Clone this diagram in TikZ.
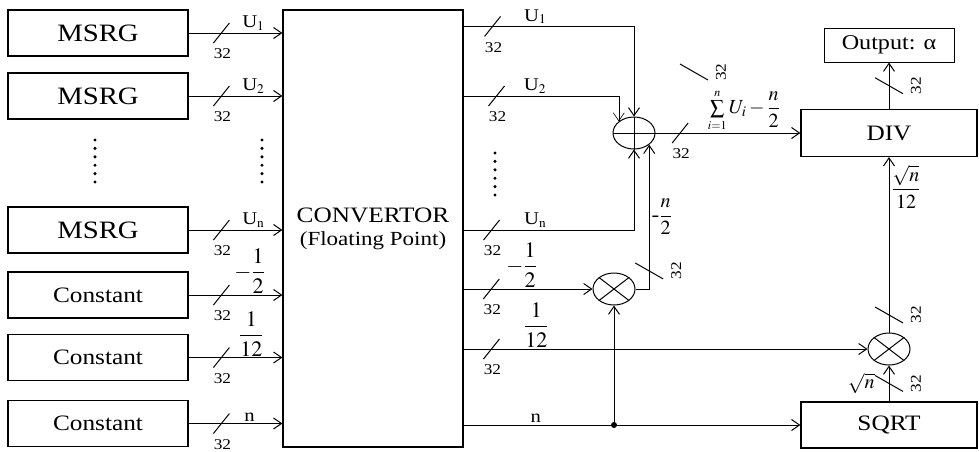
\documentclass[tikz,border=0pt]{standalone}
\usepackage{mathptmx}
\usepackage{fontspec}
\setmainfont[FakeStretch=1.15]{Liberation Serif}
\usetikzlibrary{arrows.meta, positioning, shapes.geometric}

\begin{document}
\begin{tikzpicture}[
x=1pt, y=-1pt,
blk/.style={
draw,
line width=1.2pt,
minimum width=180pt,
minimum height=46pt,
inner sep=0pt,
font=\fontsize{22}{24}\selectfont
},
op/.style={draw, ellipse, line width=1pt, minimum width=42pt, minimum height=32pt, inner sep=0pt},
arrow/.style={-{Straight Barb[length=8pt,width=11pt]}, line width=1pt},
wire/.style={line width=1pt},
lbl/.style={font=\fontsize{18}{20}\selectfont, inner sep=2pt},
frc/.style={font=\fontsize{22}{24}\selectfont, inner sep=1pt},
bigfrc/.style={font=\fontsize{20}{22}\selectfont, inner sep=2pt},
dotcol/.style={line width=3.4pt, line cap=round, dash pattern=on 0pt off 8.4pt},
bus/.pic={
\draw[-, line width=1pt] (-8,10) -- (8,-10);
\node[font=\fontsize{15}{17}\selectfont, inner sep=0pt] at (1,21) {32};
},
busv/.pic={
\draw[-, line width=1pt] (-14,-8) -- (14,8);
\node[font=\fontsize{15}{17}\selectfont, inner sep=0pt, rotate=90] at (27,0) {32};
}
]
\useasboundingbox (0,0) rectangle (979,451);

% ------------------------
% Sources (left)
% ------------------------
\node[blk, font=\fontsize{25}{28}\selectfont] (msrg1) at (98,33) {MSRG};
\node[blk, font=\fontsize{25}{28}\selectfont] (msrg2) at (98,96) {MSRG};
\node[blk, font=\fontsize{25}{28}\selectfont] (msrg3) at (98,230) {MSRG};
\node[blk] (con1) at (98,295) {Constant};
\node[blk] (con2) at (98,357.5) {Constant};
\node[blk] (con3) at (98,423.5) {Constant};

\draw[dotcol] (95,140) -- (95,182);
\draw[dotcol] (262,140) -- (262,182);

% ------------------------
% Convertor (middle)
% ------------------------
\node[blk, minimum height=437pt, align=center, font=\fontsize{22}{23}\selectfont] (conv) at (373,228.5)
{CONVERTOR\\{\fontsize{20}{23}\selectfont(Floating Point)}};

\draw[dotcol] (495,153) -- (495,195);

% ------------------------
% Operators and blocks (right)
% ------------------------
\node[op] (add) at (634,133) {};
\node[op] (mul1) at (614,289) {};
\node[op] (mul2) at (889,349) {};
\node[blk, minimum width=176pt, minimum height=47pt] (div) at (889,133) {DIV};
\node[blk, minimum width=176pt] (sqrtb) at (889,425) {SQRT};
\node[draw, line width=1pt, minimum width=130pt, minimum height=34pt,
font=\fontsize{21}{24}\selectfont] (out) at (889,45) {Output: α};
\node[circle, fill, inner sep=0pt, minimum size=6pt] (jn) at (mul1 |- sqrtb) {};

\draw[wire] (add.west) -- (add.east) (add.north) -- (add.south);
\draw[wire] (mul1.north west) -- (mul1.south east) (mul1.north east) -- (mul1.south west);
\draw[wire] (mul2.north west) -- (mul2.south east) (mul2.north east) -- (mul2.south west);

% ------------------------
% Inputs to convertor
% ------------------------
\draw[arrow] (msrg1) -- pic[pos=.35]{bus} node[lbl, pos=.69, above]{U$_1$} (msrg1 -| conv.west);
\draw[arrow] (msrg2) -- pic[pos=.35]{bus} node[lbl, pos=.69, above]{U$_2$} (msrg2 -| conv.west);
\draw[arrow] (msrg3) -- pic[pos=.35]{bus} node[lbl, pos=.69, above]{U$_\mathrm{n}$} (msrg3 -| conv.west);
\draw[arrow] (con1) -- pic[pos=.35]{bus} node[frc, pos=.65, above]{$-\displaystyle\frac{1}{2}$} (con1 -| conv.west);
\draw[arrow] (con2) -- pic[pos=.35]{bus} node[frc, pos=.67, above]{$\displaystyle\frac{1}{12}$} (con2 -| conv.west);
\draw[arrow] (con3) -- pic[pos=.35]{bus} node[lbl, pos=.65, above]{n} (con3 -| conv.west);

% ------------------------
% Convertor outputs
% ------------------------
\draw[arrow] ([yshift=-17pt]conv.north east) -| pic[pos=.085]{bus} node[lbl, pos=.21, above]{U$_1$} (add);
\draw[arrow, line width=.6pt] (conv.east |- msrg2) -| pic[pos=.106]{bus} node[lbl, pos=.23, above]{U$_2$} (add.north west);
\draw[arrow] (conv.east |- msrg3) -| pic[pos=.082]{bus} node[lbl, pos=.21, above]{U$_\mathrm{n}$} (add);
\draw[arrow] (conv.east |- mul1) -- pic[pos=.215]{bus} node[frc, pos=.45, above]{$-\displaystyle\frac{1}{2}$} (mul1);
\draw[arrow] (conv.east |- mul2) -- pic[pos=.069]{bus} node[frc, pos=.18, above]{$\displaystyle\frac{1}{12}$} (mul2);
\draw[arrow] (conv.east |- sqrtb) -- node[lbl, pos=.214, above]{n} (sqrtb);

% ------------------------
% Arithmetic
% ------------------------
\draw[arrow] (jn) -- (mul1);
\draw[arrow] (mul1) -| pic[pos=.5625]{busv} node[bigfrc, pos=.75, right]{-$\displaystyle\frac{n}{2}$} (add.south east);
\draw[arrow] (add) -- pic[pos=.17]{bus}
node[pos=.61, above, inner sep=1pt, font=\fontsize{20}{22}\selectfont]
{$\sum\limits_{\scriptscriptstyle i=1}^{\scriptscriptstyle n}U_i-\displaystyle\frac{n}{2}$} (div);
\pic at (694,72) {busv};

\draw[arrow] (sqrtb) -- pic[pos=.5]{busv} node[bigfrc, pos=.5, left=12pt]{$\sqrt{n}$} (mul2);
\draw[arrow] (mul2) -- pic[pos=.1]{busv} node[bigfrc, pos=.83, right]{$\displaystyle\frac{\sqrt{n}}{12}$} (div);
\draw[arrow] (div) -- pic[pos=.5]{busv} (out);

\end{tikzpicture}
\end{document}
